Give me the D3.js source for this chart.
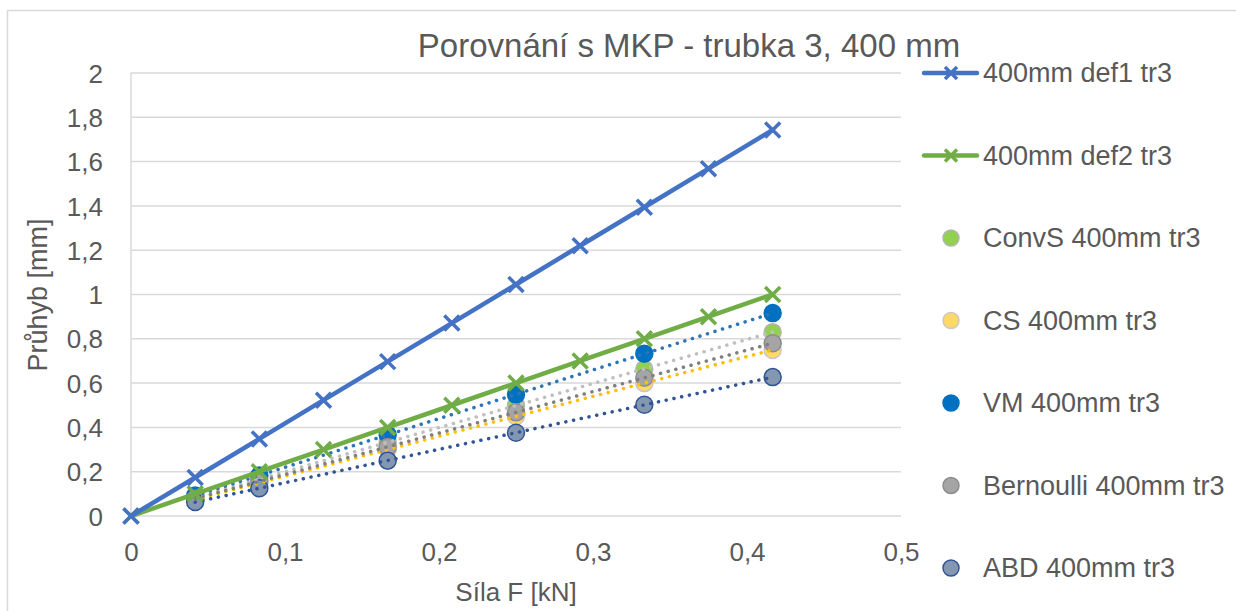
<!DOCTYPE html>
<html>
<head>
<meta charset="utf-8">
<script src="https://cdn.jsdelivr.net/npm/d3@7"></script>
<style>
  body { margin: 0; background: white; }
  text { font-family: "Liberation Sans", Arial, sans-serif; fill: #595959; }
</style>
</head>
<body>
<div id="container"></div>
<script>
let w = 1236;
let h = 611;

// data
let forceLines = [0, 0.04167, 0.08333, 0.125, 0.16667, 0.20833, 0.25, 0.29167, 0.33333, 0.375, 0.41667];
let def1 = [0, 0.174, 0.348, 0.523, 0.697, 0.871, 1.045, 1.220, 1.394, 1.568, 1.743];
let def2 = [0, 0.1, 0.2, 0.3, 0.4, 0.5, 0.6, 0.7, 0.8, 0.9, 1.0];

let forcePoints = [0.04167, 0.08333, 0.16667, 0.25, 0.33333, 0.41667];
let convS = [0.083, 0.167, 0.333, 0.500, 0.664, 0.830];
let cs = [0.075, 0.150, 0.300, 0.450, 0.600, 0.750];
let vm = [0.092, 0.183, 0.367, 0.548, 0.733, 0.916];
let bernoulli = [0.078, 0.156, 0.312, 0.468, 0.624, 0.780];
let abd = [0.063, 0.125, 0.250, 0.376, 0.502, 0.627];

let yTicks = [0, 0.2, 0.4, 0.6, 0.8, 1, 1.2, 1.4, 1.6, 1.8, 2];
let xTicks = [0, 0.1, 0.2, 0.3, 0.4, 0.5];

let lineSeries = [
  {name: "400mm def1 tr3", values: def1, color: "#4472c4"},
  {name: "400mm def2 tr3", values: def2, color: "#70ad47"}
];

let pointSeries = [
  {name: "ConvS 400mm tr3", values: convS, fill: "#92d050", stroke: "#b4b4b4", trend: "#bfbfbf"},
  {name: "CS 400mm tr3", values: cs, fill: "#ffd966", stroke: "#c8c8c8", trend: "#ffc000"},
  {name: "VM 400mm tr3", values: vm, fill: "#0070c0", stroke: "#0070c0", trend: "#2e75b6"},
  {name: "Bernoulli 400mm tr3", values: bernoulli, fill: "#a5a5a5", stroke: "#8c8c8c", trend: "#7f7f7f"},
  {name: "ABD 400mm tr3", values: abd, fill: "#8497b0", stroke: "#2f5597", trend: "#2f5597"}
];

let fmt = d3.formatLocale({decimal: ",", thousands: " ", grouping: [3], currency: ["", ""]}).format(".1~f");

let viz = d3.select("#container")
  .append("svg")
    .attr("width", w)
    .attr("height", h)
    .style("background-color", "white")
;

// chart border
viz.append("rect")
  .attr("x", 7.5).attr("y", 10.5)
  .attr("width", w).attr("height", h)
  .attr("fill", "none")
  .attr("stroke", "#d9d9d9")
  .attr("stroke-width", 1.5);

let xScale = d3.scaleLinear().domain([0, 0.5]).range([131, 901]);
let yScale = d3.scaleLinear().domain([0, 2]).range([516, 73]);

// gridlines
viz.append("g").selectAll("line").data(yTicks).enter()
  .append("line")
    .attr("x1", xScale(0)).attr("x2", xScale(0.5))
    .attr("y1", d => yScale(d)).attr("y2", d => yScale(d))
    .attr("stroke", "#d9d9d9")
    .attr("stroke-width", 1.5);

viz.append("line")
  .attr("x1", xScale(0)).attr("x2", xScale(0))
  .attr("y1", yScale(0)).attr("y2", yScale(2))
  .attr("stroke", "#d9d9d9")
  .attr("stroke-width", 1.5);

// axes
let yAxis = viz.append("g")
  .attr("transform", "translate(" + (xScale(0) - 28) + ",0)")
  .call(d3.axisLeft(yScale).tickValues(yTicks).tickFormat(fmt).tickSize(0).tickPadding(0));
yAxis.select(".domain").remove();
yAxis.selectAll("text").style("font-size", "26px").attr("dy", "0.35em").attr("fill", "#595959");

let xAxis = viz.append("g")
  .attr("transform", "translate(0," + (yScale(0) + 27) + ")")
  .call(d3.axisBottom(xScale).tickValues(xTicks).tickFormat(fmt).tickSize(0).tickPadding(0));
xAxis.select(".domain").remove();
xAxis.selectAll("text").style("font-size", "26px").attr("dy", "0.71em").attr("fill", "#595959");

// titles
viz.append("text")
  .text("Porovnání s MKP - trubka 3, 400 mm")
  .attr("x", 689).attr("y", 57)
  .attr("text-anchor", "middle")
  .style("font-size", "33px");

viz.append("text")
  .text("Síla F [kN]")
  .attr("x", 516).attr("y", 601)
  .attr("text-anchor", "middle")
  .style("font-size", "26px");

viz.append("text")
  .text("Průhyb [mm]")
  .attr("transform", "translate(47,295) rotate(-90)")
  .attr("text-anchor", "middle")
  .style("font-size", "27px");

// scatter markers
pointSeries.forEach(function(s){
  viz.append("g").selectAll("circle").data(s.values).enter()
    .append("circle")
      .attr("cx", (d, i) => xScale(forcePoints[i]))
      .attr("cy", d => yScale(d))
      .attr("r", 8.5)
      .attr("fill", s.fill)
      .attr("stroke", s.stroke)
      .attr("stroke-width", 1.5);
});

// linear trendlines (least squares) through each scatter series
pointSeries.forEach(function(s){
  let mx = d3.mean(forcePoints), my = d3.mean(s.values);
  let sxy = d3.sum(forcePoints, (x, i) => (x - mx) * (s.values[i] - my));
  let sxx = d3.sum(forcePoints, x => (x - mx) * (x - mx));
  let k = sxy / sxx, q = my - k * mx;
  let x0 = d3.min(forcePoints), x1 = d3.max(forcePoints);
  viz.append("line")
    .attr("x1", xScale(x0)).attr("y1", yScale(k * x0 + q))
    .attr("x2", xScale(x1)).attr("y2", yScale(k * x1 + q))
    .attr("stroke", s.trend)
    .attr("stroke-width", 3.5)
    .attr("stroke-linecap", "round")
    .attr("stroke-dasharray", "0.1 7.8");
});

// line series with x markers
let line = d3.line().x((d, i) => xScale(forceLines[i])).y(d => yScale(d));

function xMark(size){
  return "M" + (-size) + "," + (-size) + "L" + size + "," + size + "M" + (-size) + "," + size + "L" + size + "," + (-size);
}

lineSeries.slice().reverse().forEach(function(s){
  viz.append("path")
    .datum(s.values)
    .attr("d", line)
    .attr("fill", "none")
    .attr("stroke", s.color)
    .attr("stroke-width", 4.5)
    .attr("stroke-linejoin", "round");

  viz.append("g").selectAll("path").data(s.values).enter()
    .append("path")
      .attr("d", xMark(7.5))
      .attr("transform", (d, i) => "translate(" + xScale(forceLines[i]) + "," + yScale(d) + ")")
      .attr("fill", "none")
      .attr("stroke", s.color)
      .attr("stroke-width", 3.5);
});

// legend
let legendY = d3.scaleLinear().domain([0, 6]).range([73, 568]);

let legendLines = viz.selectAll(".legline").data(lineSeries).enter()
  .append("g")
    .attr("transform", (d, i) => "translate(0," + legendY(i) + ")");

legendLines.append("line")
  .attr("x1", 924).attr("x2", 977)
  .attr("stroke", d => d.color)
  .attr("stroke-width", 4.5)
  .attr("stroke-linecap", "round");
legendLines.append("path")
  .attr("d", xMark(6))
  .attr("transform", "translate(951,0)")
  .attr("fill", "none")
  .attr("stroke", d => d.color)
  .attr("stroke-width", 3.5);
legendLines.append("text")
  .text(d => d.name)
  .attr("x", 983).attr("dy", "0.35em")
  .style("font-size", "27px");

let legendPoints = viz.selectAll(".legpt").data(pointSeries).enter()
  .append("g")
    .attr("transform", (d, i) => "translate(0," + legendY(i + 2) + ")");

legendPoints.append("circle")
  .attr("cx", 951).attr("r", 8)
  .attr("fill", d => d.fill)
  .attr("stroke", d => d.stroke)
  .attr("stroke-width", 1.5);
legendPoints.append("text")
  .text(d => d.name)
  .attr("x", 983).attr("dy", "0.35em")
  .style("font-size", "27px");
</script>
</body>
</html>
